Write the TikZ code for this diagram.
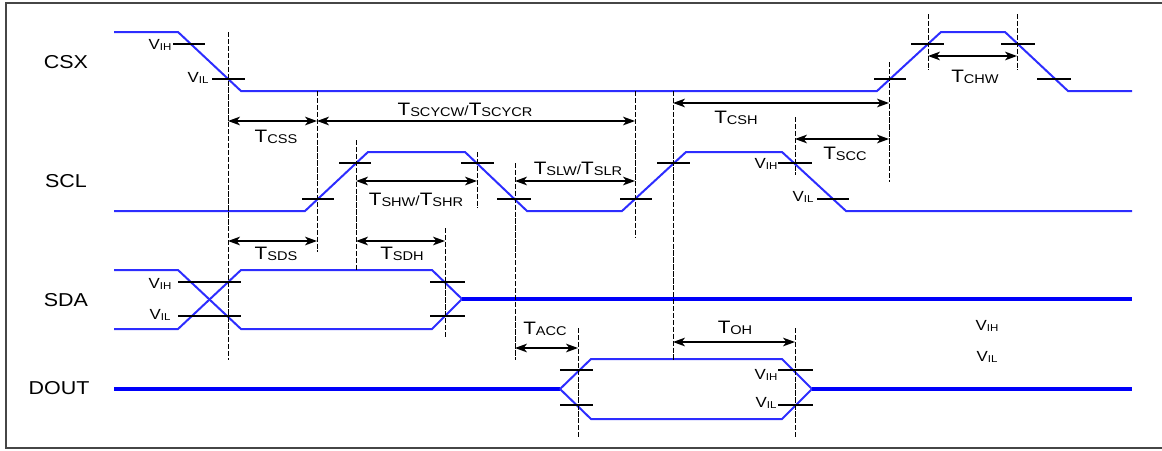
\documentclass[tikz,border=0pt]{standalone}
\usepackage{fontspec}
\setmainfont[FakeStretch=1.15]{Liberation Sans}
\usetikzlibrary{arrows.meta}
\definecolor{sigc}{RGB}{45,45,255}
\definecolor{sigd}{RGB}{0,0,250}
\definecolor{framec}{RGB}{70,70,70}
\newcommand\TL[1]{{\fontsize{13.5}{14}\selectfont T}\raisebox{-1pt}{\fontsize{9.5}{10}\selectfont #1}}
\newcommand\VL[1]{{\fontsize{11}{12}\selectfont V}\raisebox{-0.5pt}{\fontsize{7.5}{8}\selectfont #1}}
\begin{document}
\begin{tikzpicture}[x=0.75pt,y=-0.75pt,
  wave/.style={sigc,line width=1.5pt,line join=miter},
  midwave/.style={sigd,line width=2.3pt},
  tick/.style={black,line width=0.9pt},
  vline/.style={black,line width=0.7pt,dash pattern=on 4pt off 1.2pt},
  dim/.style={black,line width=0.9pt,{Stealth[length=9pt,width=6.5pt,inset=2.5pt]}-{Stealth[length=9pt,width=6.5pt,inset=2.5pt]}},
  sig/.style={inner sep=0pt,font=\fontsize{14}{16}\selectfont},
  lbl/.style={inner sep=0pt}]
\useasboundingbox (0,0) rectangle (1162,450);
\draw[framec,line width=1.6pt] (6,3) rectangle (1175,448);

% signal names
\node[sig] (csx) at (66,62) {CSX};
\node[sig] (scl) at (66,181) {SCL};
\node[sig] (sda) at (66,300) {SDA};
\node[sig] (dout) at (59,388) {DOUT};

% CSX
\draw[wave] (114,32) -- (178,32) -- (241,91) -- (877,91) -- (941,32) -- (1005,32) -- (1068,91) -- (1132,91);
% SCL
\draw[wave] (114,211) -- (305,211) -- (368,152) -- (465,152) -- (527,211) -- (622,211) -- (686,152) -- (782,152) -- (846,211) -- (1132,211);
% SDA
\draw[wave] (114,270) -- (178,270) -- (241,329) -- (432,329) -- (462,299);
\draw[wave] (114,329) -- (178,329) -- (241,270) -- (432,270) -- (462,299);
\draw[midwave] (462,299) -- (1132,299);
% DOUT
\draw[midwave] (114,389) -- (560,389);
\draw[wave] (560,389) -- (591,359) -- (782,359) -- (812,389);
\draw[wave] (560,389) -- (591,419) -- (782,419) -- (812,389);
\draw[midwave] (812,389) -- (1132,389);

% threshold ticks
\foreach \xa/\xb/\yy in {173/205/44, 212/245/79, 874/906/79, 911/944/44, 1001/1035/44, 1037/1071/79,
  302/334/199, 339/371/163, 461/494/163, 497/531/199, 620/652/199, 657/690/163, 778/812/163, 817/849/199,
  178/241/282, 178/241/316, 430/465/282, 430/465/316,
  560/593/370, 560/593/405, 778/813/370, 778/813/405}
  \draw[tick] (\xa,\yy) -- (\xb,\yy);

% timing reference lines
\foreach \xx/\ya/\yb in {228/32/360, 317/91/252, 356/140/270, 477/152/208, 515/163/360, 635/91/237,
  673/91/360, 795/117/175, 795/328/438, 889/62/182, 928/14/70, 1017/14/70, 445/228/337, 578/328/438}
  \draw[vline] (\xx,\ya) -- (\xx,\yb);

% dimension end points
\coordinate (cssL) at (228,121); \coordinate (cssR) at (317,121);
\coordinate (cycL) at (317,121); \coordinate (cycR) at (635,121);
\coordinate (cshL) at (673,103); \coordinate (cshR) at (889,103);
\coordinate (sccL) at (795,139); \coordinate (sccR) at (889,139);
\coordinate (chwL) at (928,56);  \coordinate (chwR) at (1017,56);
\coordinate (shwL) at (356,181); \coordinate (shwR) at (477,181);
\coordinate (slwL) at (515,181); \coordinate (slwR) at (635,181);
\coordinate (sdsL) at (228,241); \coordinate (sdsR) at (317,241);
\coordinate (sdhL) at (356,241); \coordinate (sdhR) at (445,241);
\coordinate (accL) at (515,348); \coordinate (accR) at (578,348);
\coordinate (ohL) at (673,342);  \coordinate (ohR) at (795,342);
\foreach \p in {css,cyc,csh,scc,chw,shw,slw,sds,sdh,acc,oh}
  \draw[dim] (\p L) -- (\p R);

% timing labels
\node[lbl] (tcss) at (276,137) {\TL{CSS}};
\node[lbl] (tcyc) at (465,110) {\TL{SCYCW}/\TL{SCYCR}};
\node[lbl] (tcsh) at (736,118) {\TL{CSH}};
\node[lbl] (tscc) at (845,154) {\TL{SCC}};
\node[lbl] (tchw) at (975,77) {\TL{CHW}};
\node[lbl] (tshw) at (416,200) {\TL{SHW}/\TL{SHR}};
\node[lbl] (tslw) at (578,169) {\TL{SLW}/\TL{SLR}};
\node[lbl] (tsds) at (276,254) {\TL{SDS}};
\node[lbl] (tsdh) at (402,254) {\TL{SDH}};
\node[lbl] (tacc) at (545,329) {\TL{ACC}};
\node[lbl] (toh) at (735,328) {\TL{OH}};

% threshold labels
\node[lbl] (v1) at (160,45) {\VL{IH}};
\node[lbl] (v2) at (198,78) {\VL{IL}};
\node[lbl] (v3) at (766,164) {\VL{IH}};
\node[lbl] (v4) at (803,197) {\VL{IL}};
\node[lbl] (v5) at (160,284) {\VL{IH}};
\node[lbl] (v6) at (160,315) {\VL{IL}};
\node[lbl] (v7) at (766,375) {\VL{IH}};
\node[lbl] (v8) at (766,403) {\VL{IL}};
\node[lbl] (v9) at (987,326) {\VL{IH}};
\node[lbl] (v10) at (987,357) {\VL{IL}};
\end{tikzpicture}
\end{document}
